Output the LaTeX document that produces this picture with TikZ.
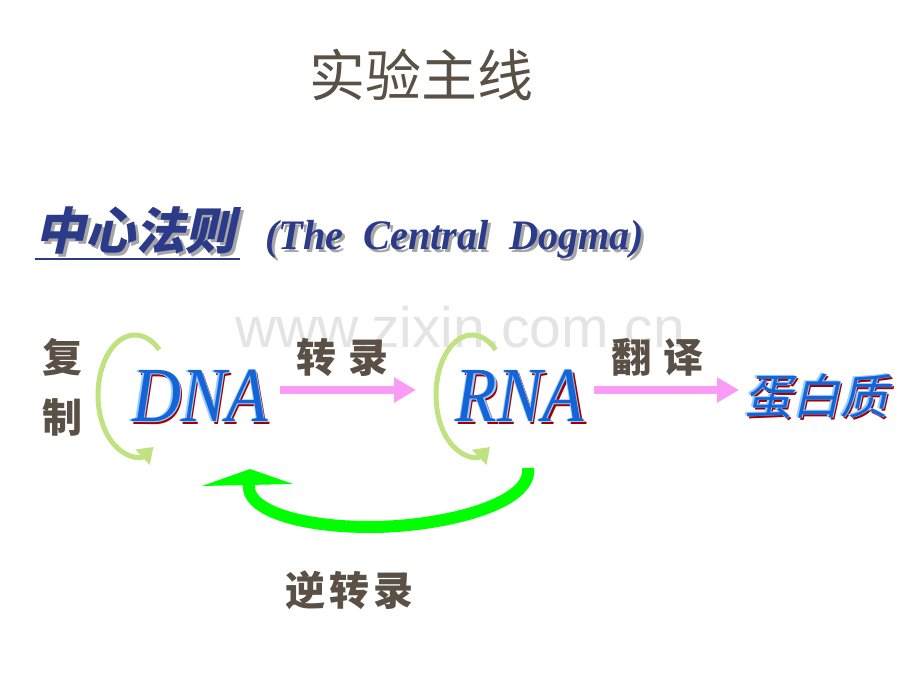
\documentclass[tikz,border=0pt]{standalone}
\usepackage{fontspec}
\setmainfont{Liberation Serif}
\newfontfamily\cjk{Noto Sans CJK SC}
\newfontfamily\cjkit[FakeSlant=0.22]{Noto Sans CJK SC}
\newfontfamily\wmfont{Liberation Sans}
\usetikzlibrary{arrows.meta}
\definecolor{labelc}{RGB}{90,80,70}
\definecolor{navy}{RGB}{44,58,138}
\definecolor{lgreen}{RGB}{192,226,128}
\definecolor{vgreen}{RGB}{0,255,0}
\definecolor{pinkc}{RGB}{250,155,245}
\definecolor{mblue}{RGB}{20,100,215}
\definecolor{lblue}{RGB}{150,205,255}
\definecolor{dred}{RGB}{160,0,0}
\definecolor{wmc}{RGB}{228,228,228}
\tikzset{
  txt/.style={inner sep=0pt, outer sep=0pt},
  lab/.style={txt, text=labelc, font=\cjk\bfseries\fontsize{40}{40}\selectfont},
  repl/.style={draw=lgreen, line width=5pt, -{Triangle[width=20pt,length=15pt]}},
  pinkarrow/.style={draw=pinkc, line width=7.5pt, -{Triangle[width=24pt,length=22pt]}},
}
\newcommand{\fancytext}[4]{% name, x, y, content
  \node[txt, text=dred] at (#2+2.5,#3+2.5) {#4};
  \node[txt, text=lblue] at (#2-1.2,#3-0.6) {#4};
  \node[txt, text=lblue] at (#2+1.2,#3+0.6) {#4};
  \node[txt, text=mblue] (#1) at (#2,#3) {#4};
}
\newcommand{\engtext}{\scalebox{0.96}[1]{\bfseries\itshape\fontsize{42}{42}\selectfont (The\ \ Central\ \ Dogma)}}
\begin{document}
\begin{tikzpicture}[x=1pt,y=-1pt]
\useasboundingbox[fill=white] (0,0) rectangle (920,690);
% watermark
\node[txt, anchor=base, text=wmc, font=\wmfont\fontsize{57}{57}\selectfont] (wm) at (460,347) {www.zixin.com.cn};
% title
\node[txt, text=labelc, font=\cjk\fontsize{56}{56}\selectfont] (title) at (421,75) {实验主线};
% heading
\node[txt, anchor=base west, text=black!35, font=\cjkit\bfseries\fontsize{50}{50}\selectfont] at (38,252) {中心法则};
\node[txt, anchor=base west, text=navy, font=\cjkit\bfseries\fontsize{50}{50}\selectfont] (head) at (35,249) {中心法则};
\draw[navy, line width=2pt] (35,259) -- (240,259);
\node[txt, anchor=base west, text=black!35] at (268,252) {\engtext};
\node[txt, anchor=base west, text=navy] (eng) at (265,249) {\engtext};
% replication label
\node[lab] (fu) at (62,357) {复};
\node[lab] (zhi) at (62,417) {制};
% replication arrows
\coordinate (dnac) at (135,395);
\coordinate (rnac) at (472,395);
\draw[repl] ([shift={(-49:37 and 60)}]dnac) arc[start angle=-49, end angle=-300, x radius=37, y radius=60];
\draw[repl] ([shift={(-49:36 and 60)}]rnac) arc[start angle=-49, end angle=-300, x radius=36, y radius=60];
% DNA, RNA, protein
\fancytext{dna}{200}{396}{\scalebox{0.87}[1]{\itshape\fontsize{78}{78}\selectfont DNA}}
\fancytext{rna}{520}{396}{\scalebox{0.87}[1]{\itshape\fontsize{78}{78}\selectfont RNA}}
\fancytext{prot}{816}{396}{\cjkit\fontsize{48}{48}\selectfont 蛋白质}
% forward arrows
\coordinate (a1s) at (280,390);
\coordinate (a1e) at (416,390);
\coordinate (a2s) at (594,390);
\coordinate (a2e) at (739,390);
\draw[pinkarrow] (a1s) -- (a1e);
\draw[pinkarrow] (a2s) -- (a2e);
\node[lab] (zl) at (342,357) {转\hspace{0.3em}录};
\node[lab] (fy) at (657,357) {翻\hspace{0.3em}译};
% reverse transcription
\coordinate (rs) at (528,468);
\coordinate (rm) at (370,527);
\coordinate (re) at (249,484);
\draw[vgreen, line width=12pt] (rs) .. controls (533,505) and (440,527) .. (rm) .. controls (300,527) and (245,510) .. (re);
\fill[vgreen] (202,486) -- (250,469) -- (293,484) -- cycle;
\node[lab] (nzl) at (349,590) {逆\hspace{0.1em}转\hspace{0.1em}录};
\end{tikzpicture}
\end{document}
